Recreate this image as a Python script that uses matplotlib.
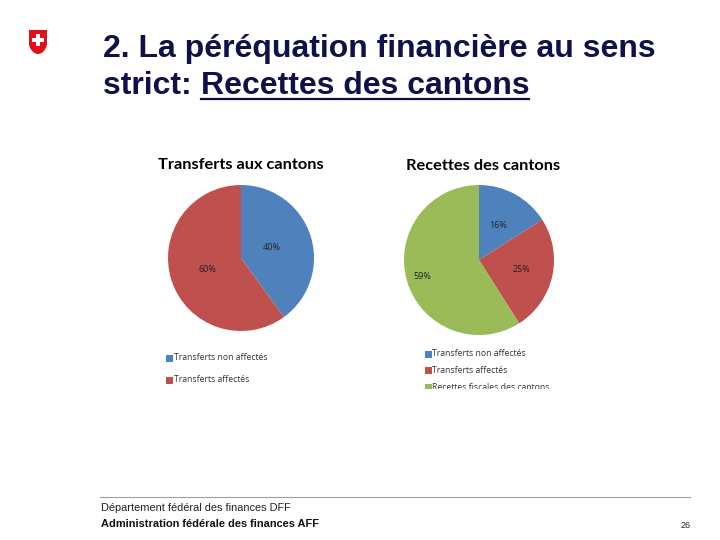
import numpy as np
import matplotlib
matplotlib.use("Agg")
import matplotlib.pyplot as plt
from matplotlib.patches import Rectangle, Polygon
from matplotlib.lines import Line2D

# data
left_title = "Transferts aux cantons"
left_labels = ["Transferts non affectés", "Transferts affectés"]
left_values = [40, 60]

right_title = "Recettes des cantons"
right_labels = ["Transferts non affectés", "Transferts affectés", "Recettes fiscales des cantons"]
right_values = [16, 25, 59]

colors = ["#4F81BD", "#C0504D", "#9BBB59"]

W, H = 720, 540
fig = plt.figure(figsize=(7.2, 5.4), dpi=100)
fig.patch.set_facecolor("white")


def px(x, y):
    # pixel (from top-left) -> figure fraction
    return x / W, 1 - y / H


def pie_axes(cx, cy, r):
    ax = fig.add_axes([(cx - r) / W, (H - cy - r) / H, 2 * r / W, 2 * r / H])
    ax.axis("off")
    return ax


def draw_pie(ax, values, label_r):
    wedges, _ = ax.pie(values, colors=colors[:len(values)], startangle=90,
                       counterclock=False, radius=1, center=(0, 0), frame=False)
    ax.set_xlim(-1, 1)
    ax.set_ylim(-1, 1)
    ax.set_aspect("equal")
    for w, v, r in zip(wedges, values, label_r):
        ang = np.deg2rad((w.theta1 + w.theta2) / 2)
        ax.text(r * np.cos(ang), r * np.sin(ang), f"{v}%", ha="center", va="center",
                fontsize=6.5, family="Open Sans", color="#222222")


# left pie
axl = pie_axes(241, 258, 73)
draw_pie(axl, left_values, [0.45, 0.49])
# right pie
axr = pie_axes(479, 260, 75)
draw_pie(axr, right_values, [0.52, 0.58, 0.79])

fig.text(*px(241, 165), left_title, ha="center", va="center", fontsize=11.8,
         family="Lato", weight="bold", color="black")
fig.text(*px(483, 166), right_title, ha="center", va="center", fontsize=11.8,
         family="Lato", weight="bold", color="black")


def legend(x, y0, dy, labels):
    for i, lab in enumerate(labels):
        y = y0 + i * dy
        fig.patches.append(Rectangle(px(x, y + 3.5), 7 / W, 7 / H, transform=fig.transFigure,
                                     facecolor=colors[i], edgecolor="none"))
        fig.text(*px(x + 7.5, y), lab, ha="left", va="center", fontsize=6.2,
                 family="Open Sans", color="#333333")


legend(166, 358, 22, left_labels)
legend(425, 354, 16.5, right_labels)
# the chart images are cut at the bottom
fig.patches.append(Rectangle(px(150, 396), 180 / W, 10 / H, transform=fig.transFigure,
                             facecolor="white", edgecolor="none", zorder=10))
fig.patches.append(Rectangle(px(415, 399), 160 / W, 10 / H, transform=fig.transFigure,
                             facecolor="white", edgecolor="none", zorder=10))

# slide title
navy = "#10104a"
fig.text(*px(103, 57), "2. La péréquation financière au sens", ha="left",
         va="baseline", fontsize=23, family="Liberation Sans", weight="bold", color=navy)
t1 = fig.text(*px(103, 94), "strict: ", ha="left", va="baseline", fontsize=23,
              family="Liberation Sans", weight="bold", color=navy)
fig.canvas.draw()
rend = fig.canvas.get_renderer()
bb = t1.get_window_extent(rend)
t2 = fig.text(bb.x1 / W, 1 - 94 / H, "Recettes des cantons", ha="left",
              va="baseline", fontsize=23, family="Liberation Sans", weight="bold", color=navy)
bb2 = t2.get_window_extent(rend)
fig.lines.append(Line2D([bb2.x0 / W, bb2.x1 / W], [1 - 99 / H, 1 - 99 / H],
                        transform=fig.transFigure, color=navy, lw=1.6))

# swiss logo
axlogo = fig.add_axes([27 / W, 1 - 56 / H, 22 / W, 28 / H])
axlogo.set_xlim(0, 22)
axlogo.set_ylim(0, 28)
axlogo.axis("off")
shield = [(2, 26), (20, 26), (20, 12)]
shield += [(11 + 9 * np.cos(a), 12 - 10 * np.sin(a) ** 1.3) for a in np.linspace(0, np.pi, 30)][1:-1]
shield += [(2, 12)]
axlogo.add_patch(Polygon(shield, closed=True, facecolor="#e2101b", edgecolor="none"))
axlogo.add_patch(Rectangle((9, 10), 4, 12, facecolor="white", edgecolor="none"))
axlogo.add_patch(Rectangle((5, 14), 12, 4, facecolor="white", edgecolor="none"))

# footer
fig.lines.append(Line2D([100 / W, 690 / W], [1 - 497 / H, 1 - 497 / H],
                        transform=fig.transFigure, color="#a0a0a0", lw=0.8))
fig.text(*px(101, 508), "Département fédéral des finances DFF", ha="left", va="center",
         fontsize=7.9, family="Liberation Sans", color="#222222")
fig.text(*px(101, 524), "Administration fédérale des finances AFF", ha="left", va="center",
         fontsize=7.9, family="Liberation Sans", weight="bold", color="#111111")
fig.text(*px(686, 526), "26", ha="center", va="center", fontsize=6.5,
         family="Liberation Sans", color="#222222")

fig.savefig("out.png", dpi=100)
